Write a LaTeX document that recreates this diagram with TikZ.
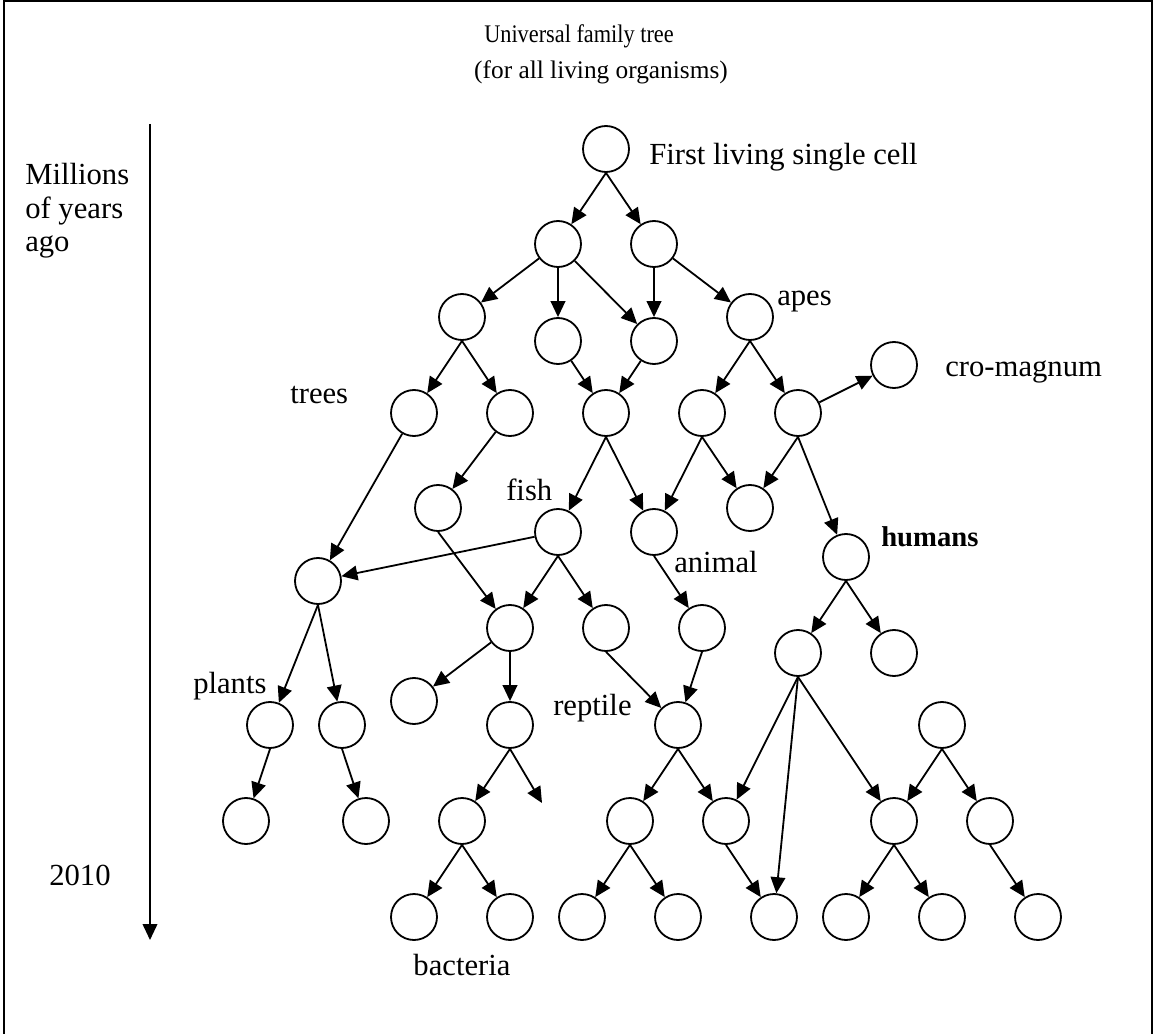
\documentclass[tikz,border=0pt]{standalone}
\usepackage{fontspec}
\setmainfont{Liberation Serif}
\usetikzlibrary{arrows.meta}
\begin{document}
\begin{tikzpicture}[x=0.75pt,y=-0.75pt,
  cell/.style={circle,draw,line width=1.35pt,minimum size=34.5pt,inner sep=0pt},
  link/.style={line width=1.35pt,-{Triangle[length=12pt,width=11pt]}},
  lbl/.style={font=\fontsize{23}{26}\selectfont,inner sep=0pt,anchor=base west},
  ttl/.style={inner sep=0pt,font=\fontsize{19}{22}\selectfont}]
\useasboundingbox (0,0) rectangle (1154,1034);
% frame
\draw[line width=1.5pt] (4,1034) -- (4,1.5) -- (1152,1.5) -- (1152,1034);
% title
\node[ttl] (title1) at (579,36) {\scalebox{0.88}[1]{Universal family tree}};
\node[ttl] (title2) at (601,72) {(for all living organisms)};
% time axis
\coordinate (tTop) at (150,124);
\coordinate (tBot) at (150,940);
\draw[link] (tTop) -- (tBot);
\node[lbl] (ago1) at (25,185) {Millions};
\node[lbl] (ago2) at (25,219) {of years};
\node[lbl] (ago3) at (25,252) {ago};
\node[lbl] (year) at (49,885) {2010};
% cells
\node[cell] (root) at (606,149) {};
\node[cell] (a1) at (558,244) {};
\node[cell] (b1) at (654,244) {};
\node[cell] (a2) at (462,317) {};
\node[cell] (b2) at (558,341) {};
\node[cell] (c2) at (654,341) {};
\node[cell] (apes) at (750,317) {};
\node[cell] (a3) at (414,413) {};
\node[cell] (b3) at (510,413) {};
\node[cell] (c3) at (606,413) {};
\node[cell] (d3) at (702,413) {};
\node[cell] (e3) at (798,413) {};
\node[cell] (cro) at (894,365) {};
\node[cell] (a4) at (438,508) {};
\node[cell] (fish) at (558,532) {};
\node[cell] (animal) at (654,532) {};
\node[cell] (d4) at (750,508) {};
\node[cell] (humans) at (846,557) {};
\node[cell] (trunk) at (318,581) {};
\node[cell] (a5) at (510,628) {};
\node[cell] (b5) at (606,628) {};
\node[cell] (c5) at (702,628) {};
\node[cell] (h1) at (798,653) {};
\node[cell] (h2) at (894,653) {};
\node[cell] (p1) at (270,725) {};
\node[cell] (p2) at (342,725) {};
\node[cell] (a6) at (414,701) {};
\node[cell] (b6) at (510,725) {};
\node[cell] (reptile) at (678,725) {};
\node[cell] (f6) at (942,725) {};
\node[cell] (a7) at (246,821) {};
\node[cell] (b7) at (366,821) {};
\node[cell] (c7) at (462,821) {};
\node[cell] (d7) at (630,821) {};
\node[cell] (e7) at (726,821) {};
\node[cell] (f7) at (894,821) {};
\node[cell] (g7) at (990,821) {};
\node[cell] (z1) at (414,917) {};
\node[cell] (z2) at (510,917) {};
\node[cell] (z3) at (582,917) {};
\node[cell] (z4) at (678,917) {};
\node[cell] (z5) at (774,917) {};
\node[cell] (z6) at (846,917) {};
\node[cell] (z7) at (942,917) {};
\node[cell] (z8) at (1038,917) {};
\coordinate (loose) at (542,803);
% labels
\node[lbl] (lRoot) at (649,165) {First living single cell};
\node[lbl] (lApes) at (777,306) {apes};
\node[lbl] (lCro) at (945,377) {cro-magnum};
\node[lbl] (lTrees) at (290,404) {trees};
\node[lbl] (lFish) at (506,500) {fish};
\node[lbl] (lAnimal) at (674,572) {animal};
\node[lbl,font=\fontsize{21.5}{24}\selectfont\bfseries] (lHumans) at (881,546) {humans};
\node[lbl] (lPlants) at (193,693) {plants};
\node[lbl] (lReptile) at (553,715) {reptile};
\node[lbl,anchor=base] (lBacteria) at (462,975) {bacteria};
% links
\draw[link] (root.south) -- (a1);
\draw[link] (root.south) -- (b1);
\draw[link] (a1) -- (a2);
\draw[link] (a1.south) -- (b2);
\draw[link] (a1) -- (c2);
\draw[link] (b1.south) -- (c2);
\draw[link] (b1) -- (apes);
\draw[link] (a2.south) -- (a3);
\draw[link] (a2.south) -- (b3);
\draw[link] (b2) -- (c3);
\draw[link] (c2) -- (c3);
\draw[link] (apes.south) -- (d3);
\draw[link] (apes.south) -- (e3);
\draw[link] (e3) -- (cro);
\draw[link] (a3) -- (trunk);
\draw[link] (b3) -- (a4);
\draw[link] (c3.south) -- (fish);
\draw[link] (c3.south) -- (animal);
\draw[link] (d3.south) -- (animal);
\draw[link] (d3.south) -- (d4);
\draw[link] (e3.south) -- (d4);
\draw[link] (e3.south) -- (humans);
\draw[link] (fish) -- (trunk);
\draw[link] (a4.south) -- (a5);
\draw[link] (fish.south) -- (a5);
\draw[link] (fish.south) -- (b5);
\draw[link] (animal.south) -- (c5);
\draw[link] (humans.south) -- (h1);
\draw[link] (humans.south) -- (h2);
\draw[link] (trunk.south) -- (p1);
\draw[link] (trunk.south) -- (p2);
\draw[link] (a5) -- (a6);
\draw[link] (a5.south) -- (b6);
\draw[link] (b5.south) -- (reptile);
\draw[link] (c5.south) -- (reptile);
\draw[link] (p1.south) -- (a7);
\draw[link] (p2.south) -- (b7);
\draw[link] (b6.south) -- (c7);
\draw[link] (b6.south) -- (loose);
\draw[link] (reptile.south) -- (d7);
\draw[link] (reptile.south) -- (e7);
\draw[link] (h1.south) -- (e7);
\draw[link] (h1.south) -- (z5);
\draw[link] (h1.south) -- (f7);
\draw[link] (f6.south) -- (f7);
\draw[link] (f6.south) -- (g7);
\draw[link] (c7.south) -- (z1);
\draw[link] (c7.south) -- (z2);
\draw[link] (d7.south) -- (z3);
\draw[link] (d7.south) -- (z4);
\draw[link] (e7.south) -- (z5);
\draw[link] (f7.south) -- (z6);
\draw[link] (f7.south) -- (z7);
\draw[link] (g7.south) -- (z8);
\end{tikzpicture}
\end{document}
